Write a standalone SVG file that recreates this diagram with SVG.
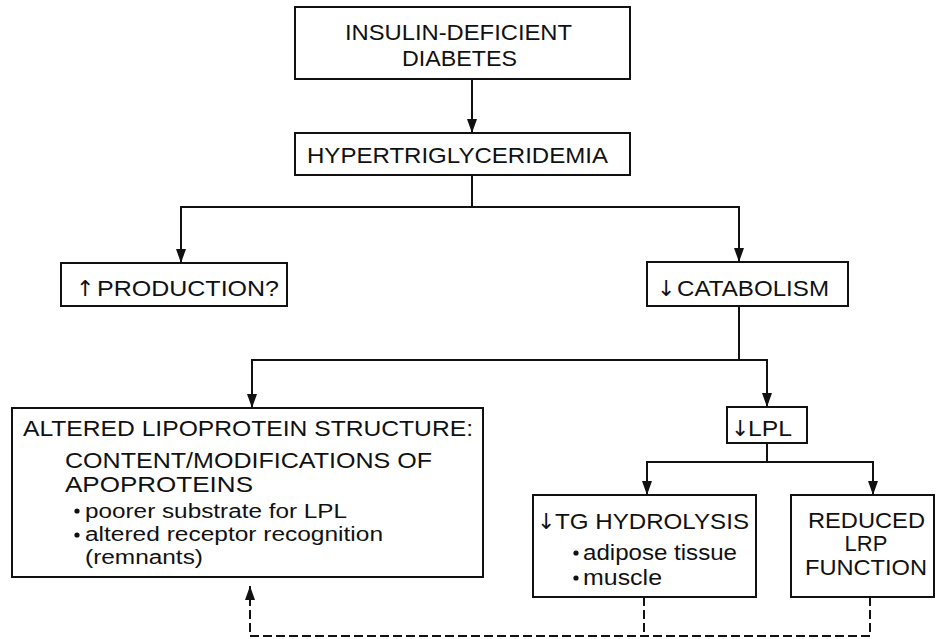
<svg xmlns="http://www.w3.org/2000/svg" width="936" height="639" viewBox="0 0 936 639">
<style>
  .box { fill: #ffffff; stroke: #111111; stroke-width: 2; }
  .t { font-family: "Liberation Sans", Arial, sans-serif; font-size: 22px; fill: #111111; }
  .s { font-size: 20px; }
  .ar { font-family: "DejaVu Sans", sans-serif; font-size: 22px; }
  .c { text-anchor: middle; }
  .line { fill: none; stroke: #111111; stroke-width: 2; }
  .dash { fill: none; stroke: #111111; stroke-width: 2; stroke-dasharray: 9 4; }
</style>
<defs>
  <marker id="ahd" viewBox="0 0 10 14" refX="5" refY="14" markerWidth="10" markerHeight="14" markerUnits="userSpaceOnUse" orient="0">
    <path d="M0,0 L10,0 L5,14 Z" fill="#111111"/>
  </marker>
  <marker id="ahu" viewBox="0 0 10 14" refX="5" refY="0" markerWidth="10" markerHeight="14" markerUnits="userSpaceOnUse" orient="0">
    <path d="M0,14 L10,14 L5,0 Z" fill="#111111"/>
  </marker>
</defs>
<rect width="936" height="639" fill="#ffffff"/>

<g id="connectors">
  <line class="line" x1="472" y1="79" x2="472" y2="133" marker-end="url(#ahd)"/>
  <line class="line" x1="472" y1="175" x2="472" y2="207"/>
  <polyline class="line" points="181,263 181,207 739,207 739,262" marker-start="url(#ahd)" marker-end="url(#ahd)"/>
  <line class="line" x1="739" y1="306" x2="739" y2="360"/>
  <polyline class="line" points="252,408 252,360 767,360 767,407" marker-start="url(#ahd)" marker-end="url(#ahd)"/>
  <line class="line" x1="767" y1="443" x2="767" y2="462"/>
  <polyline class="line" points="647,495 647,462 873,462 873,495" marker-start="url(#ahd)" marker-end="url(#ahd)"/>
  <line class="dash" x1="644" y1="597" x2="644" y2="636"/>
  <line class="dash" x1="870" y1="597" x2="870" y2="636"/>
  <polyline class="dash" points="870,636 250,636 250,586" marker-end="url(#ahu)"/>
</g>

<g id="n-diabetes">
  <rect class="box" x="295" y="7" width="335" height="72"/>
  <text class="t" x="345" y="40" textLength="227" lengthAdjust="spacingAndGlyphs">INSULIN-DEFICIENT</text>
  <text class="t" x="402" y="66" textLength="115" lengthAdjust="spacingAndGlyphs">DIABETES</text>
</g>

<g id="n-hyper">
  <rect class="box" x="295" y="133" width="335" height="42"/>
  <text class="t" x="307" y="163" textLength="301" lengthAdjust="spacingAndGlyphs">HYPERTRIGLYCERIDEMIA</text>
</g>

<g id="n-production">
  <rect class="box" x="61" y="263" width="226" height="43"/>
  <text class="t" x="76" y="296"><tspan class="ar">↑</tspan><tspan x="97" textLength="182" lengthAdjust="spacingAndGlyphs">PRODUCTION?</tspan></text>
</g>

<g id="n-catabolism">
  <rect class="box" x="647" y="262" width="201" height="44"/>
  <text class="t" x="657" y="296"><tspan class="ar">↓</tspan><tspan x="677" textLength="152" lengthAdjust="spacingAndGlyphs">CATABOLISM</tspan></text>
</g>

<g id="n-altered">
  <rect class="box" x="12" y="408" width="471" height="169"/>
  <text class="t" x="23" y="436" textLength="450" lengthAdjust="spacingAndGlyphs">ALTERED LIPOPROTEIN STRUCTURE:</text>
  <text class="t" x="65" y="468" textLength="367" lengthAdjust="spacingAndGlyphs">CONTENT/MODIFICATIONS OF</text>
  <text class="t" x="65" y="492" textLength="188" lengthAdjust="spacingAndGlyphs">APOPROTEINS</text>
  <circle cx="77" cy="511" r="2.6" fill="#111111"/>
  <text class="t s" x="85" y="518" textLength="262" lengthAdjust="spacingAndGlyphs">poorer substrate for LPL</text>
  <circle cx="77" cy="535" r="2.6" fill="#111111"/>
  <text class="t s" x="85" y="541" textLength="298" lengthAdjust="spacingAndGlyphs">altered receptor recognition</text>
  <text class="t s" x="85" y="564" textLength="118" lengthAdjust="spacingAndGlyphs">(remnants)</text>
</g>

<g id="n-lpl">
  <rect class="box" x="727" y="407" width="80" height="36"/>
  <text class="t" x="731" y="436"><tspan class="ar">↓</tspan><tspan x="748" textLength="44" lengthAdjust="spacingAndGlyphs">LPL</tspan></text>
</g>

<g id="n-tg">
  <rect class="box" x="533" y="495" width="223" height="102"/>
  <text class="t" x="537" y="529"><tspan class="ar">↓</tspan><tspan x="555" textLength="194" lengthAdjust="spacingAndGlyphs">TG HYDROLYSIS</tspan></text>
  <circle cx="576" cy="553" r="2.6" fill="#111111"/>
  <text class="t" x="583" y="560" textLength="154" lengthAdjust="spacingAndGlyphs">adipose tissue</text>
  <circle cx="576" cy="578" r="2.6" fill="#111111"/>
  <text class="t" x="583" y="585" textLength="79" lengthAdjust="spacingAndGlyphs">muscle</text>
</g>

<g id="n-lrp">
  <rect class="box" x="791" y="495" width="143" height="102"/>
  <text class="t" x="808" y="528" textLength="117" lengthAdjust="spacingAndGlyphs">REDUCED</text>
  <text class="t c" x="866" y="551">LRP</text>
  <text class="t" x="805" y="575" textLength="122" lengthAdjust="spacingAndGlyphs">FUNCTION</text>
</g>
</svg>
